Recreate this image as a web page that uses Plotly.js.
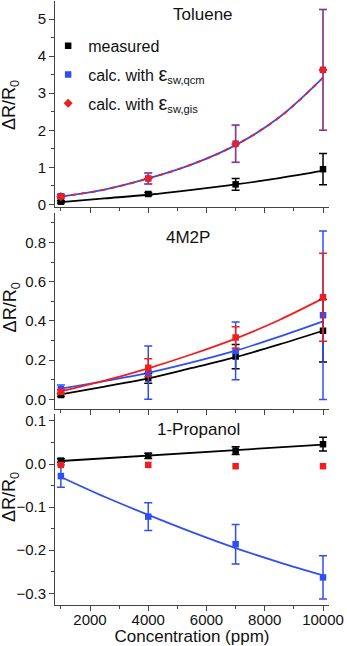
<!DOCTYPE html>
<html>
<head>
<meta charset="utf-8">
<script src="https://cdn.plot.ly/plotly-3.0.1.min.js"></script>
<style>
  body { margin: 0; background: #fff; }
  #chart { width: 347px; height: 646px; }
</style>
</head>
<body>
<div id="chart"></div>
<script>
// concentrations (ppm)
var conc = [1000, 4000, 7000, 10000];
var fitConc = [1000, 2500, 4000, 5500, 7000, 8500, 10000];

// Toluene
var tolMeas = [0.07, 0.28, 0.54, 0.95];
var tolMeasErr = [0.03, 0.04, 0.16, 0.42];
var tolQcm = [0.22, 0.70, 1.64, 3.63];
var tolQcmErr = [0.05, 0.15, 0.50, 1.63];
var tolGis = [0.21, 0.70, 1.63, 3.63];
var tolGisErr = [0.05, 0.15, 0.50, 1.63];
var tolMeasFit = [0.06, 0.16, 0.26, 0.39, 0.54, 0.71, 0.91];
var tolCalcFit = [0.21, 0.40, 0.70, 1.08, 1.60, 2.35, 3.42];

// 4M2P
var m2pMeas = [0.022, 0.107, 0.218, 0.35];
var m2pMeasErr = [0.008, 0.025, 0.062, 0.16];
var m2pQcm = [0.051, 0.136, 0.247, 0.429];
var m2pQcmErr = [0.022, 0.136, 0.147, 0.43];
var m2pGis = [0.039, 0.161, 0.315, 0.521];
var m2pGisErr = [0.01, 0.046, 0.055, 0.225];
var m2pMeasFit = [0.025, 0.065, 0.107, 0.16, 0.215, 0.28, 0.35];
var m2pQcmFit = [0.055, 0.093, 0.135, 0.188, 0.248, 0.32, 0.398];
var m2pGisFit = [0.04, 0.095, 0.158, 0.23, 0.31, 0.405, 0.515];

// 1-Propanol
var propMeas = [0.008, 0.019, 0.031, 0.046];
var propMeasErr = [0.004, 0.006, 0.009, 0.016];
var propQcm = [-0.028, -0.122, -0.186, -0.263];
var propQcmErr = [0.026, 0.032, 0.046, 0.05];
var propGis = [-0.002, -0.002, -0.005, -0.005];
var propMeasFitX = [1000, 10000];
var propMeasFit = [0.007, 0.045];
var propQcmFit = [-0.03, -0.076, -0.118, -0.158, -0.195, -0.228, -0.258];

var BLACK = '#000000', BLUE = '#2f4ff5', RED = '#f01e1e';
var FONT = 'Liberation Sans, Arial, sans-serif';

function pts(x, y, err, color, xa, ya, opts) {
    opts = opts || {};
    var t = {
        x: x, y: y, xaxis: xa, yaxis: ya,
        type: 'scatter', mode: 'markers',
        marker: {symbol: opts.symbol || 'square', size: opts.size || 6.5, color: color},
        showlegend: !!opts.name, name: opts.name || '',
        legendgroup: opts.name || undefined
    };
    if (err) {
        t.error_y = {type: 'data', array: err, visible: true,
                     color: opts.errColor || color, thickness: 1.5, width: 4};
    }
    return t;
}

function fit(x, y, color, xa, ya, dash) {
    return {
        x: x, y: y, xaxis: xa, yaxis: ya,
        type: 'scatter', mode: 'lines', showlegend: false,
        line: {color: color, width: 1.8, shape: 'spline', dash: dash || 'solid'}
    };
}

var data = [
    // Toluene
    fit(fitConc, tolMeasFit, BLACK, 'x', 'y'),
    fit(fitConc, tolCalcFit, BLUE, 'x', 'y'),
    fit(fitConc, tolCalcFit, RED, 'x', 'y', '5px,5px'),
    pts(conc, tolMeas, tolMeasErr, BLACK, 'x', 'y', {name: 'measured'}),
    pts(conc, tolQcm, tolQcmErr, BLUE, 'x', 'y',
        {name: 'calc. with <span style="font-size:20px">ε</span><sub>sw,qcm</sub>'}),
    pts(conc, tolGis, tolGisErr, RED, 'x', 'y',
        {name: 'calc. with <span style="font-size:20px">ε</span><sub>sw,gis</sub>',
         symbol: 'diamond', size: 7, errColor: 'rgba(240,30,30,0.55)'}),
    // 4M2P
    fit(fitConc, m2pMeasFit, BLACK, 'x2', 'y2'),
    fit(fitConc, m2pQcmFit, BLUE, 'x2', 'y2'),
    fit(fitConc, m2pGisFit, RED, 'x2', 'y2'),
    pts(conc, m2pMeas, m2pMeasErr, BLACK, 'x2', 'y2'),
    pts(conc, m2pQcm, m2pQcmErr, BLUE, 'x2', 'y2'),
    pts(conc, m2pGis, m2pGisErr, RED, 'x2', 'y2'),
    // 1-Propanol
    fit(propMeasFitX, propMeasFit, BLACK, 'x3', 'y3'),
    fit(fitConc, propQcmFit, BLUE, 'x3', 'y3'),
    pts(conc, propMeas, propMeasErr, BLACK, 'x3', 'y3'),
    pts(conc, propQcm, propQcmErr, BLUE, 'x3', 'y3'),
    pts(conc, propGis, null, RED, 'x3', 'y3')
];

function xax(anchor, labels) {
    return {
        anchor: anchor, range: [798, 10206], dtick: 2000, tick0: 0, tickformat: 'd',
        showgrid: false, zeroline: false, showline: true, linecolor: '#444', linewidth: 1,
        ticks: 'outside', ticklen: 5, tickcolor: '#444',
        minor: {dtick: 1000, ticks: 'outside', ticklen: 3, tickcolor: '#444', showgrid: false},
        showticklabels: labels, ticklabelstandoff: -4,
        tickfont: {family: FONT, size: 15, color: '#111'},
        title: labels ? {text: 'Concentration (ppm)', standoff: 0,
                         font: {family: FONT, size: 17, color: '#111'}} : {text: ''}
    };
}

function yax(domain, range, dtick, minor, anchor, fmt) {
    return {
        domain: domain, range: range, dtick: dtick, tick0: 0, anchor: anchor,
        tickformat: fmt,
        showgrid: false, zeroline: false, showline: true, linecolor: '#444', linewidth: 1,
        ticks: 'outside', ticklen: 5, tickcolor: '#444',
        minor: {dtick: minor, ticks: 'outside', ticklen: 3, tickcolor: '#444', showgrid: false},
        tickfont: {family: FONT, size: 15, color: '#111'}
    };
}

function label(text, x, y, size, angle) {
    return {text: text, x: x, y: y, xref: 'paper', yref: 'paper', showarrow: false,
            textangle: angle || 0, xanchor: 'center', yanchor: 'middle',
            font: {family: FONT, size: size, color: '#111'}};
}

var layout = {
    width: 347, height: 646,
    margin: {l: 55, r: 18, t: 1, b: 41},
    paper_bgcolor: '#fff', plot_bgcolor: '#fff',
    font: {family: FONT, color: '#111'},
    xaxis: xax('y', false),
    xaxis2: xax('y2', false),
    xaxis3: xax('y3', true),
    yaxis: yax([0.659, 1], [-0.07, 5.49], 1, 0.5, 'x', ''),
    yaxis2: yax([0.3253, 0.649], [-0.047, 0.951], 0.2, 0.1, 'x2', '.1f'),
    yaxis3: yax([0, 0.3162], [-0.327, 0.116], 0.1, 0.05, 'x3', '.1f'),
    legend: {x: -0.025, y: 0.954, xanchor: 'left', yanchor: 'top',
             bgcolor: 'rgba(0,0,0,0)', tracegroupgap: 5,
             font: {family: FONT, size: 16, color: '#111'}},
    annotations: [
        label('Toluene', 0.54, 0.977, 17),
        label('4M2P', 0.485, 0.609, 17),
        label('1-Propanol', 0.522, 0.29, 17),
        label('ΔR/R<sub>0</sub>', -0.16, 0.828, 18, -90),
        label('ΔR/R<sub>0</sub>', -0.16, 0.493, 18, -90),
        label('ΔR/R<sub>0</sub>', -0.16, 0.179, 18, -90)
    ]
};

Plotly.newPlot('chart', data, layout, {displayModeBar: false, staticPlot: true});
</script>
</body>
</html>
